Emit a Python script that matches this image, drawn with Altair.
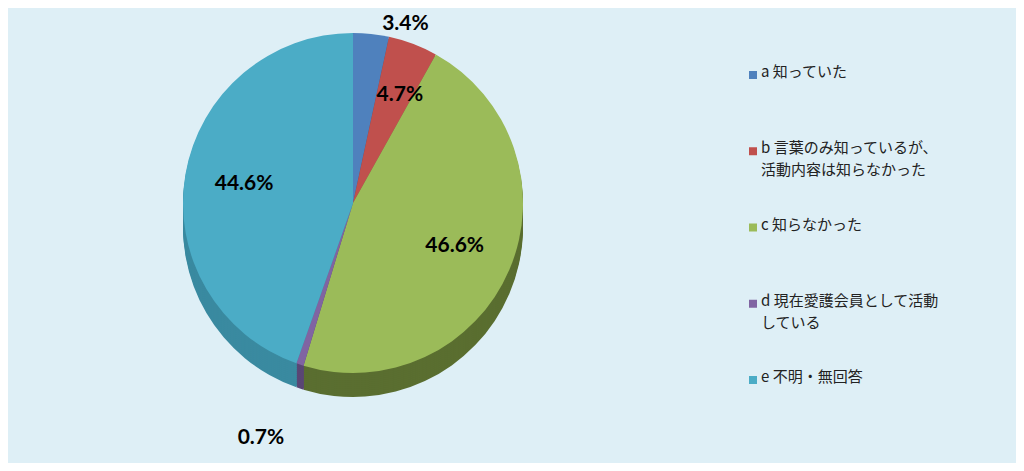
import altair as alt
import pandas as pd

# ---- data ----
keys = ["a", "b", "c", "d", "e"]
values = [3.4, 4.7, 46.6, 0.7, 44.6]
pct_labels = ["3.4%", "4.7%", "46.6%", "0.7%", "44.6%"]
legend_labels = [
    "a 知っていた",
    "b 言葉のみ知っているが、\n活動内容は知らなかった",
    "c 知らなかった",
    "d 現在愛護会員として活動\nしている",
    "e 不明・無回答",
]
top_colors = ["#4F81BD", "#C0504D", "#9BBB59", "#8064A2", "#4BACC6"]
side_colors = ["#3A5F8C", "#8E3B39", "#5A6E30", "#5A4675", "#3A8AA0"]

BG = "#DEEFF6"
CX, CY, R, DEPTH = 345, 195, 170, 24
JP_FONT = "Noto Sans CJK JP"
NUM_FONT = "Lato"

df = pd.DataFrame({"key": keys, "value": values, "pct": pct_labels})
leg = pd.DataFrame({"key": keys, "label": legend_labels})

top_scale = alt.Scale(domain=keys, range=top_colors)
side_scale = alt.Scale(domain=keys, range=side_colors)

base = alt.Chart(df)

layers = []
# side (depth) of the pie
for off in range(DEPTH, 0, -2):
    layers.append(
        base.mark_arc(radius=R, stroke=None).encode(
            theta=alt.Theta("value:Q", stack=True),
            color=alt.Color("key:N", scale=side_scale, legend=None),
            order=alt.Order("key:N"),
            x=alt.value(CX),
            y=alt.value(CY + off),
        )
    )
# top face
layers.append(
    base.mark_arc(radius=R, stroke=None).encode(
        theta=alt.Theta("value:Q", stack=True),
        color=alt.Color("key:N", scale=top_scale, legend=None),
        order=alt.Order("key:N"),
        x=alt.value(CX),
        y=alt.value(CY),
    )
)

mid_base = base.transform_window(
    cum="sum(value)", sort=[alt.SortField("key")]
).transform_calculate(mid="datum.cum - datum.value / 2")

theta_mid = alt.Theta("mid:Q", scale=alt.Scale(domain=[0, 100]))

txt_style = dict(font=NUM_FONT, fontSize=21, fontWeight="bold", color="black")

inside = mid_base.transform_filter(
    alt.FieldOneOfPredicate(field="key", oneOf=["c", "e"])
).mark_text(radius=R * 0.65, **txt_style).encode(
    theta=theta_mid, text="pct:N", x=alt.value(CX), y=alt.value(CY)
)
inside_b = mid_base.transform_filter(alt.datum.key == "b").mark_text(
    radius=R * 0.68, dx=6, **txt_style
).encode(theta=theta_mid, text="pct:N", x=alt.value(CX), y=alt.value(CY))
out_a = mid_base.transform_filter(alt.datum.key == "a").mark_text(
    radius=R + 10, align="left", dx=10, **txt_style
).encode(theta=theta_mid, text="pct:N", x=alt.value(CX), y=alt.value(CY))
out_d = mid_base.transform_filter(alt.datum.key == "d").mark_text(
    radius=R + 77, dx=-15, **txt_style
).encode(theta=theta_mid, text="pct:N", x=alt.value(CX), y=alt.value(CY))

pie = alt.layer(*layers, inside, inside_b, out_a, out_d).resolve_scale(
    color="independent", theta="independent"
).properties(width=730, height=455)

# ---- legend panel ----
ybase = alt.Chart(leg)
yenc = alt.Y(
    "key:N",
    axis=None,
    scale=alt.Scale(type="point", domain=keys, range=[67, 372], padding=0),
)
squares = ybase.mark_square(size=64, opacity=1).encode(
    x=alt.value(15),
    y=yenc,
    color=alt.Color("key:N", scale=top_scale, legend=None),
)
labels = ybase.mark_text(
    align="left",
    baseline="top",
    dy=-10,
    lineBreak="\n",
    lineHeight=22,
    font=JP_FONT,
    fontSize=15,
    color="#222222",
).encode(x=alt.value(23), y=yenc, text="label:N")

legend = alt.layer(squares, labels).properties(width=278, height=455)

chart = (
    alt.hconcat(pie, legend, spacing=0)
    .properties(background=BG, padding=0)
    .configure_view(stroke=None)
)

chart.save("out.html", embed_options={"renderer": "svg", "actions": False})
